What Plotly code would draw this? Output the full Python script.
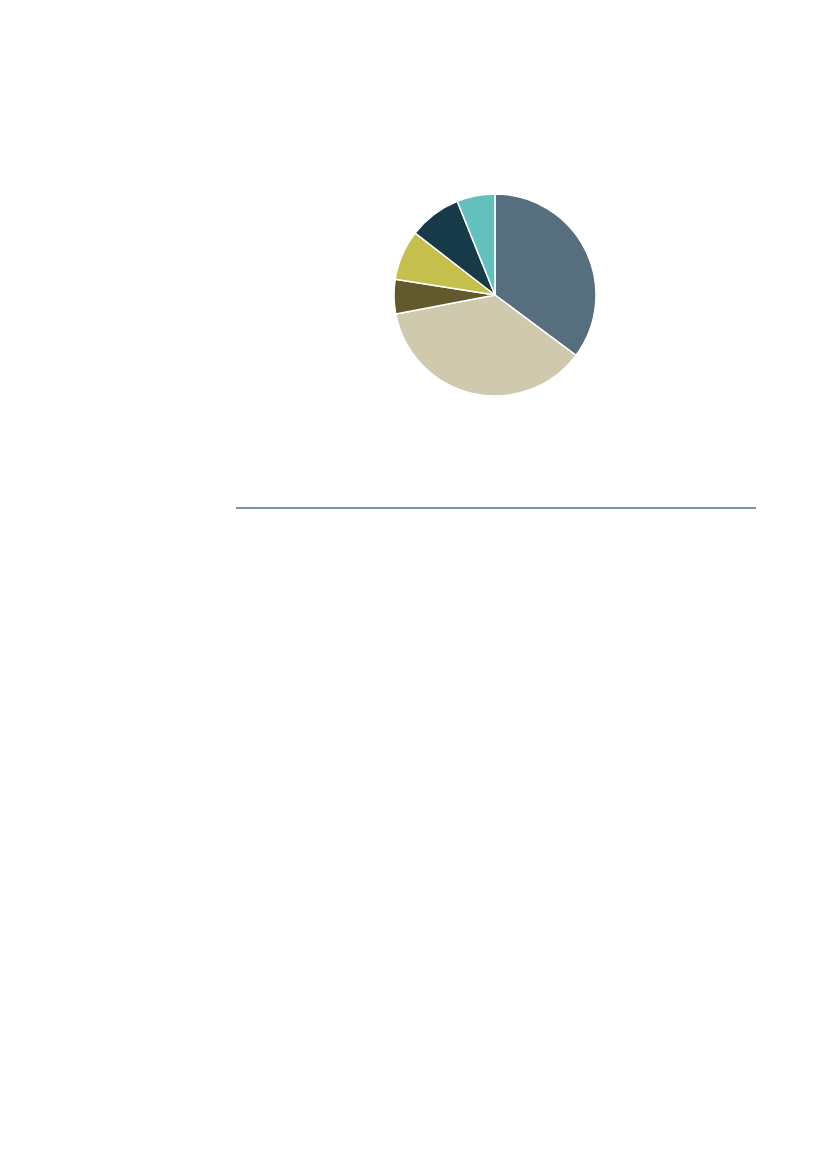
import plotly.graph_objects as go

# slice values (percent, clockwise from 12 o'clock)
labels = ['Category 1', 'Category 2', 'Category 3', 'Category 4', 'Category 5', 'Category 6']
values = [35.2, 36.8, 5.5, 8.0, 8.4, 6.1]
colors = ['#566E7D', '#CFC9AD', '#625A2D', '#C5C04D', '#163A47', '#62C0BD']

W, H = 827, 1169
OFF = 8  # page body margin shifts everything by this much

fig = go.Figure()
fig.add_trace(go.Pie(
    labels=labels,
    values=values,
    sort=False,
    direction='clockwise',
    rotation=0,
    textinfo='none',
    hoverinfo='label+percent',
    marker=dict(colors=colors, line=dict(color='white', width=1.5)),
    domain=dict(x=[(394 - OFF) / W, (596 - OFF) / W],
                y=[1 - (396 - OFF) / H, 1 - (194 - OFF) / H]),
    showlegend=False,
))

# thin rule under the chart
fig.add_shape(type='line', xref='paper', yref='paper',
              x0=(236 - OFF) / W, x1=(756 - OFF) / W,
              y0=1 - (508 - OFF) / H, y1=1 - (508 - OFF) / H,
              line=dict(color='#4F6D88', width=1.5))

fig.update_layout(
    width=W, height=H,
    margin=dict(l=0, r=0, t=0, b=0),
    paper_bgcolor='white',
    plot_bgcolor='white',
)

fig.write_html("out.html")
